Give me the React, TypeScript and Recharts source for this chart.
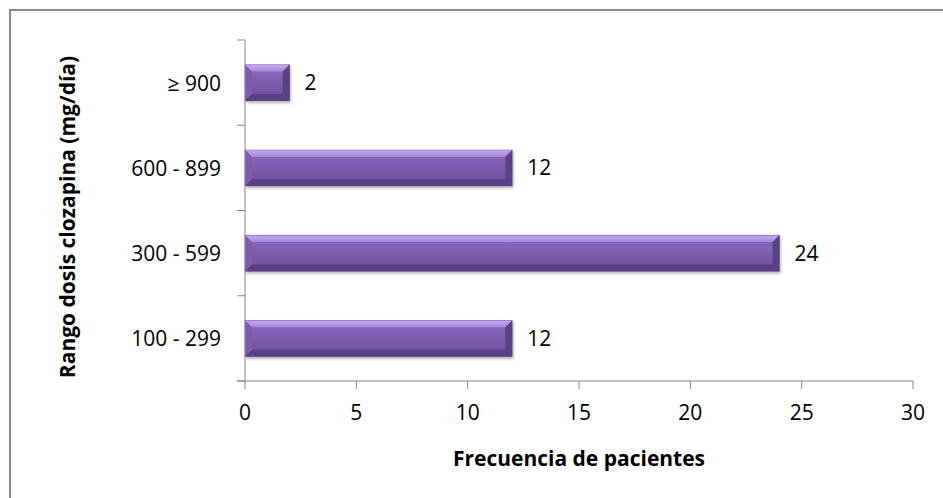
import React from "react";
import { BarChart, Bar, XAxis, YAxis, LabelList } from "recharts";

const RANGOS = ["≥ 900", "600 - 899", "300 - 599", "100 - 299"];
const FRECUENCIAS = [2, 12, 24, 12];
const X_TICKS = [0, 5, 10, 15, 20, 25, 30];

const data = RANGOS.map((rango, i) => ({ rango, pacientes: FRECUENCIAS[i] }));

const FONT = "'Open Sans', 'Noto Sans', sans-serif";
const FONT_SIZE = 21;
const AXIS_COLOR = "#868686";
const PLOT_LEFT = 245;
const PLOT_TOP = 40;
const PLOT_BOTTOM = 381;
const BAND = (PLOT_BOTTOM - PLOT_TOP) / RANGOS.length;

// bar drawn with a bevelled look (light top, dark bottom/right edge)
function BevelBar(props: any) {
  const { x, y, width, height } = props;
  if (!width || width <= 0) return null;
  const b = Math.min(7, width / 2, height / 3);
  const r = x + width;
  const btm = y + height;
  return (
    <g filter="url(#barShadow)">
      <rect x={x} y={y} width={width} height={height} fill="#7657a6" />
      <polygon
        points={`${x},${y} ${r},${y} ${r - b},${y + b} ${x + b},${y + b}`}
        fill="url(#bevelTop)"
      />
      <polygon
        points={`${x},${btm} ${r},${btm} ${r - b},${btm - b} ${x + b},${btm - b}`}
        fill="#5a4183"
      />
      <polygon
        points={`${x},${y} ${x + b},${y + b} ${x + b},${btm - b} ${x},${btm}`}
        fill="#7d5dae"
      />
      <polygon
        points={`${r},${y} ${r - b},${y + b} ${r - b},${btm - b} ${r},${btm}`}
        fill="#5a4185"
      />
      <rect
        x={x + b}
        y={y + b}
        width={Math.max(0, width - 2 * b)}
        height={Math.max(0, height - 2 * b)}
        fill="url(#bevelFace)"
      />
      <rect
        x={x}
        y={y}
        width={width}
        height={height}
        fill="none"
        stroke="#4a3570"
        strokeOpacity={0.4}
        strokeWidth={0.8}
      />
    </g>
  );
}

function RangoTick(props: any) {
  const { y, payload, index } = props;
  const top = y - BAND / 2;
  return (
    <g>
      <line x1={PLOT_LEFT - 8} y1={top} x2={PLOT_LEFT} y2={top} stroke={AXIS_COLOR} />
      {index === RANGOS.length - 1 && (
        <line
          x1={PLOT_LEFT - 8}
          y1={y + BAND / 2}
          x2={PLOT_LEFT}
          y2={y + BAND / 2}
          stroke={AXIS_COLOR}
        />
      )}
      <text
        x={PLOT_LEFT - 24}
        y={y}
        textAnchor="end"
        dominantBaseline="central"
        fontFamily={FONT}
        fontSize={FONT_SIZE}
        fill="#000"
      >
        {payload.value}
      </text>
    </g>
  );
}

function FrecTick(props: any) {
  const { x, payload } = props;
  return (
    <text
      x={x}
      y={PLOT_BOTTOM + 31}
      textAnchor="middle"
      dominantBaseline="central"
      fontFamily={FONT}
      fontSize={FONT_SIZE}
      fill="#000"
    >
      {payload.value}
    </text>
  );
}

export default function App() {
  return (
    <div style={{ position: "fixed", left: 0, top: 0, width: 943, height: 498, background: "#fff" }}>
      <div
        style={{
          position: "absolute",
          left: 9,
          top: 9,
          width: 940,
          height: 495,
          borderTop: "2px solid #8a8a8a",
          borderLeft: "2px solid #8a8a8a",
        }}
      />
      <div style={{ position: "absolute", left: 0, top: 0 }}>
        <BarChart
          width={943}
          height={498}
          data={data}
          layout="vertical"
          margin={{ top: PLOT_TOP, right: 30, bottom: 0, left: 0 }}
          barCategoryGap="29%"
        >
          <defs>
            <linearGradient id="bevelTop" x1="0" y1="0" x2="0" y2="1">
              <stop offset="0%" stopColor="#c7aaf2" />
              <stop offset="100%" stopColor="#a587d8" />
            </linearGradient>
            <linearGradient id="bevelFace" x1="0" y1="0" x2="0" y2="1">
              <stop offset="0%" stopColor="#8767ba" />
              <stop offset="100%" stopColor="#7152a2" />
            </linearGradient>
            <filter id="barShadow" x="-5%" y="-20%" width="110%" height="160%">
              <feDropShadow dx="1" dy="2" stdDeviation="1.5" floodColor="#000" floodOpacity="0.3" />
            </filter>
          </defs>
          <XAxis
            type="number"
            domain={[0, 30]}
            ticks={X_TICKS}
            height={117}
            axisLine={{ stroke: AXIS_COLOR }}
            tickLine={{ stroke: AXIS_COLOR }}
            tickSize={8}
            tick={<FrecTick />}
            interval={0}
          />
          <YAxis
            type="category"
            dataKey="rango"
            width={PLOT_LEFT}
            axisLine={{ stroke: AXIS_COLOR }}
            tickLine={false}
            tick={<RangoTick />}
            interval={0}
          />
          <Bar dataKey="pacientes" shape={<BevelBar />} isAnimationActive={false}>
            <LabelList
              dataKey="pacientes"
              position="right"
              offset={15}
              fontFamily={FONT}
              fontSize={FONT_SIZE}
              fill="#000"
            />
          </Bar>
        </BarChart>
      </div>
      <svg
        width={943}
        height={498}
        style={{ position: "absolute", left: 0, top: 0, pointerEvents: "none" }}
      >
        <line x1={PLOT_LEFT - 8} y1={PLOT_BOTTOM} x2={PLOT_LEFT} y2={PLOT_BOTTOM} stroke={AXIS_COLOR} />
        <text
          x={579}
          y={458}
          textAnchor="middle"
          dominantBaseline="central"
          fontFamily={FONT}
          fontSize={FONT_SIZE}
          fontWeight="bold"
          fill="#000"
        >
          Frecuencia de pacientes
        </text>
        <text
          transform="translate(67, 217) rotate(-90)"
          textAnchor="middle"
          dominantBaseline="central"
          fontFamily={FONT}
          fontSize={FONT_SIZE}
          fontWeight="bold"
          fill="#000"
        >
          Rango dosis clozapina (mg/día)
        </text>
      </svg>
    </div>
  );
}
